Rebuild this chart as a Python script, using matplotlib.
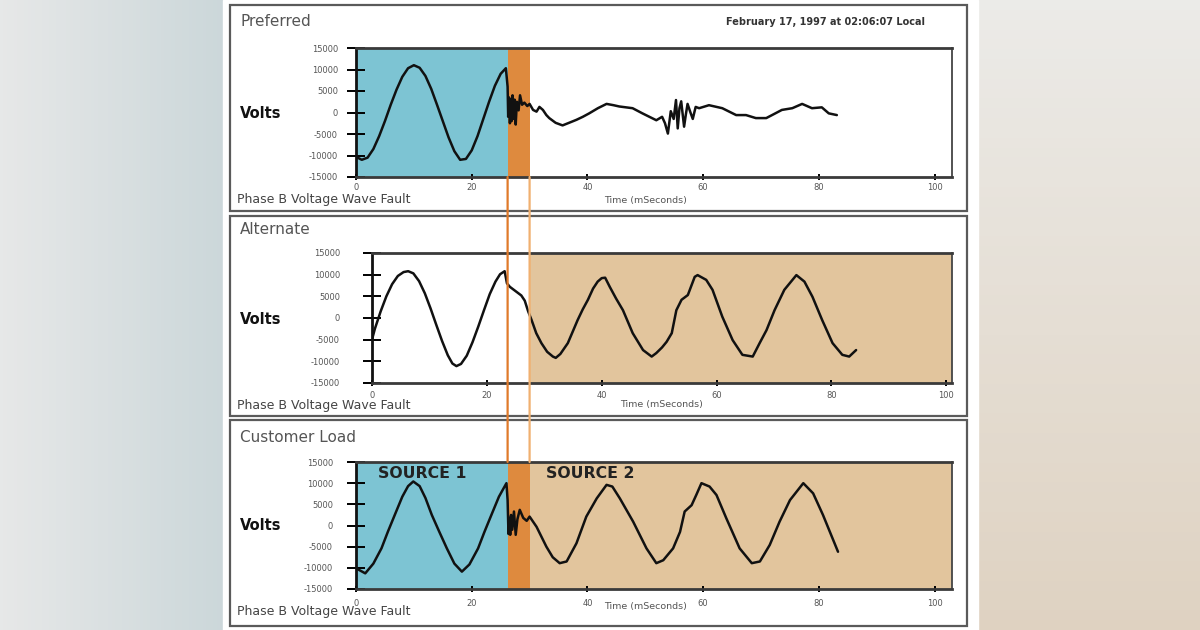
import numpy as np
import matplotlib.pyplot as plt
from matplotlib.patches import Rectangle, ConnectionPatch

plt.rcParams['axes.unicode_minus'] = False

# --- data (time in ms, volts) ---
pref_t = [0, 1, 2, 3, 4, 5, 6, 7, 8, 9, 10, 11, 12, 13, 14, 15, 16, 17, 18, 19, 20,
          21, 22, 23, 24, 25, 25.9,
          26.2, 26.3, 26.45, 26.6, 26.75, 26.9, 27.05, 27.2, 27.4, 27.6, 27.8, 28.1,
          28.35, 28.7, 29.1, 29.6, 30.0, 30.6, 31.2, 31.7, 32.3, 32.9, 33.4, 34.5,
          35.7, 37.0, 38.1, 39.2, 40.3, 41.8, 43.3, 44.5, 45.5, 47.8, 49.5, 51.9,
          52.9, 53.4, 53.9, 54.4, 54.9, 55.3, 55.6, 55.9, 56.2, 56.7, 57.0, 57.3,
          57.8, 58.2, 58.7, 59.3, 61.0, 63.3, 65.7, 67.4, 69.1, 70.9, 71.9, 73.6,
          75.4, 77.1, 78.8, 80.5, 81.7, 83.1]
pref_v = [-10300, -11000, -10500, -8500, -5500, -2000, 1800, 5300, 8300, 10300, 11000,
          10400, 8500, 5500, 1800, -2000, -5800, -9000, -11000, -10800, -8800,
          -5500, -1500, 2500, 6200, 9000, 10300,
          6000, -1000, 3500, -2500, 3000, -2000, 4000, -1500, 3000, -2800, 2500, 500,
          4000, 1800, 2300, 1500, 2000, 600, 200, 1300, 600, -600, -1300, -2400,
          -3000, -2300, -1700, -1000, -200, 1000, 2000, 1700, 1400, 1000, -200, -1800,
          -1000, -2500, -4900, 300, -1500, 2900, -3700, 1000, 2600, -3300, -500, 2000,
          0, -1500, 1300, 1000, 1700, 1000, -600, -600, -1300, -1300, -600, 600,
          1000, 2000, 1000, 1200, -200, -600]

alt_t = [0, 0.5, 1.5, 2.5, 3.5, 4.5, 5.5, 6.3, 7.2, 8.2, 9.2, 10.2, 11.2, 12.2, 13.2,
         14.0, 14.7, 15.5, 16.5, 17.5, 18.5, 19.5, 20.5, 21.5, 22.3, 23.1, 23.5, 24.0,
         25.0, 26.0, 26.6, 27.2, 27.8, 28.6, 29.5, 30.5, 31.5, 32.0, 32.8, 34.1, 35.0,
         35.8, 36.7, 37.6, 38.5, 39.3, 40.0, 40.6, 41.4, 42.5, 43.7, 45.4, 47.2, 48.7,
         49.5, 50.5, 51.3, 52.2, 53.0, 53.9, 55.0, 56.2, 56.7, 58.2, 59.3, 61.0, 62.8,
         64.5, 66.3, 67.5, 68.7, 70.1, 71.8, 73.9, 75.3, 76.7, 78.4, 80.2, 81.9, 83.1,
         84.3]
alt_v = [-5000, -2500, 1500, 5000, 7800, 9700, 10600, 10800, 10300, 8500, 5700, 2200,
         -1600, -5300, -8600, -10500, -11100, -10600, -8700, -5600, -2000, 1800, 5500,
         8400, 10100, 10800, 8000, 7200, 6200, 5200, 4000, 1500, -500, -3500, -5800,
         -7800, -8900, -9200, -8300, -5800, -3000, -500, 2000, 4200, 6800, 8400, 9200,
         9300, 7200, 4500, 1800, -3500, -7400, -8900, -8100, -6800, -5500, -3500, 1800,
         4200, 5300, 9500, 9900, 8800, 6500, 300, -5100, -8500, -8900, -5800, -2800,
         1800, 6500, 9900, 8400, 4900, -500, -5800, -8500, -8900, -7400]

load_t = [0, 1.6, 3.0, 4.4, 5.5, 6.7, 8.0, 9.0, 9.9, 11.0, 12.0, 13.1, 14.4, 15.7, 17.0,
          18.3, 19.6, 21.1, 22.2, 23.4, 24.7, 26.0,
          26.2, 26.35, 26.5, 26.65, 26.8, 27.0, 27.3, 27.6, 27.9, 28.3, 28.9, 29.5,
          30.0, 31.2, 32.9, 34.0, 35.2, 36.4, 38.1, 39.8, 41.6, 43.3, 44.3, 45.6, 47.9,
          50.2, 51.9, 53.1, 54.8, 56.0, 56.8, 58.0, 58.8, 59.7, 61.1, 62.3, 64.0, 66.3,
          68.4, 69.8, 71.5, 73.2, 75.0, 77.3, 79.0, 80.7, 83.3]
load_v = [-10100, -11300, -9000, -5400, -1500, 2500, 6800, 9300, 10400, 9300, 6500, 2500,
          -1500, -5400, -9000, -10900, -9200, -5400, -1500, 2500, 6800, 10000,
          6000, -2000, 1800, -2200, 2500, -1000, 3300, -2200, 1500, 3700, 1800, 1100,
          2100, -300, -5000, -7500, -8900, -8500, -4200, 2100, 6400, 9600, 9200, 6400,
          900, -5400, -8900, -8200, -5400, -1500, 3300, 4800, 7200, 10000, 9200, 7200,
          1700, -5400, -8900, -8500, -4600, 900, 6000, 10000, 7600, 2500, -6200]

fault_start = 26.2   # ms, panels 1 and 3
fault_end = 30.0
alt_switch = 27.5    # ms, panel 2 (its own time base)

volt_ticks = [-15000, -10000, -5000, 0, 5000, 10000, 15000]
time_ticks = [0, 20, 40, 60, 80, 100]

W, H = 1200, 630
fig = plt.figure(figsize=(12, 6.3), dpi=100)


def box(x0, y0, x1, y1):
    return [x0 / W, 1 - y1 / H, (x1 - x0) / W, (y1 - y0) / H]


# background, white card and panel frames (pixel coordinates)
bg = fig.add_axes([0, 0, 1, 1])
bg.set_xlim(0, W)
bg.set_ylim(H, 0)
bg.axis('off')
left = np.linspace([0.905, 0.91, 0.91], [0.80, 0.845, 0.855], 64).reshape(1, 64, 3)
right = np.linspace([0.925, 0.922, 0.91], [0.875, 0.825, 0.76], 64).reshape(64, 1, 3)
bg.imshow(left, extent=(0, 224, H, 0), aspect='auto')
bg.imshow(right, extent=(977, W, H, 0), aspect='auto')
bg.add_patch(Rectangle((223, 0), 755, H, color='white'))
for y0, y1 in [(5, 211), (216, 416), (420, 626)]:
    bg.add_patch(Rectangle((230, y0), 737, y1 - y0, fill=False, ec='#5a5a5a', lw=1.6))

blue = '#7dc4d3'
orange = '#de8a3e'
beige = '#e2c59d'

ax1 = fig.add_axes(box(356, 48, 952, 177))
ax2 = fig.add_axes(box(372, 253, 952, 383))
ax3 = fig.add_axes(box(356, 462, 952, 589))

ax1.axvspan(0, fault_start, color=blue, lw=0)
ax1.axvspan(fault_start, fault_end, color=orange, lw=0)
ax2.axvspan(alt_switch, 101, color=beige, lw=0)
ax3.axvspan(0, fault_start, color=blue, lw=0)
ax3.axvspan(fault_start, fault_end, color=orange, lw=0)
ax3.axvspan(fault_end, 103, color=beige, lw=0)

line_kw = dict(color='#111111', lw=1.8, solid_joinstyle='round', solid_capstyle='round')
ax1.plot(pref_t, pref_v, **line_kw)
ax2.plot(alt_t, alt_v, **line_kw)
ax3.plot(load_t, load_v, **line_kw)

settings = [(ax1, 103, 6.5, 2.3, 0.485, -0.15), (ax2, 101, 16.5, 3.8, 0.5, -0.13),
            (ax3, 103, 10, 5, 0.485, -0.10)]
for ax, xmax, ypad, xpad, lab_x, lab_y in settings:
    ax.set_xlim(0, xmax)
    ax.set_ylim(-15000, 15000)
    ax.set_yticks(volt_ticks)
    ax.set_xticks(time_ticks)
    ax.tick_params(axis='y', direction='inout', length=13, width=1.4,
                   labelsize=6, labelcolor='#555555', pad=ypad)
    ax.tick_params(axis='x', direction='inout', length=4, width=1.4,
                   labelsize=6, labelcolor='#555555', pad=xpad)
    for side in ['top', 'bottom']:
        ax.spines[side].set_linewidth(2)
        ax.spines[side].set_color('#3a3a3a')
    ax.spines['left'].set_linewidth(2)
    ax.spines['left'].set_color('#111111')
    ax.spines['right'].set_linewidth(1.3)
    ax.spines['right'].set_color('#444444')
    ax.set_xlabel('Time (mSeconds)', fontsize=6.8, color='#555555')
    ax.xaxis.set_label_coords(lab_x, lab_y)
    ax.set_facecolor('white')

ax3.text(11.4, 12400, 'SOURCE 1', fontsize=11.3, fontweight='bold', color='#222222',
         ha='center', va='center')
ax3.text(40.5, 12400, 'SOURCE 2', fontsize=11.3, fontweight='bold', color='#222222',
         ha='center', va='center')

# vertical markers at the fault start / end running through all panels
for t, c in [(fault_start, '#e07a2a'), (fault_end, '#f0b070')]:
    con = ConnectionPatch((t, -15000), (t, 15000), coordsA='data', coordsB='data',
                          axesA=ax1, axesB=ax3, color=c, lw=1.6, zorder=5)
    fig.add_artist(con)

# panel texts
for title, y in [('Preferred', 22), ('Alternate', 230), ('Customer Load', 438)]:
    fig.text(240 / W, 1 - y / H, title, fontsize=11, color='#555555', va='center')
for y in [113, 320, 525]:
    fig.text(240 / W, 1 - y / H, 'Volts', fontsize=10.5, fontweight='bold',
             color='#111111', va='center')
for y in [200, 406, 612]:
    fig.text(237 / W, 1 - y / H, 'Phase B Voltage Wave Fault', fontsize=9,
             color='#444444', va='center')
fig.text(925 / W, 1 - 22 / H, 'February 17, 1997 at 02:06:07 Local', fontsize=7,
         fontweight='bold', color='#333333', ha='right', va='center')

fig.savefig('out.png', dpi=100)
